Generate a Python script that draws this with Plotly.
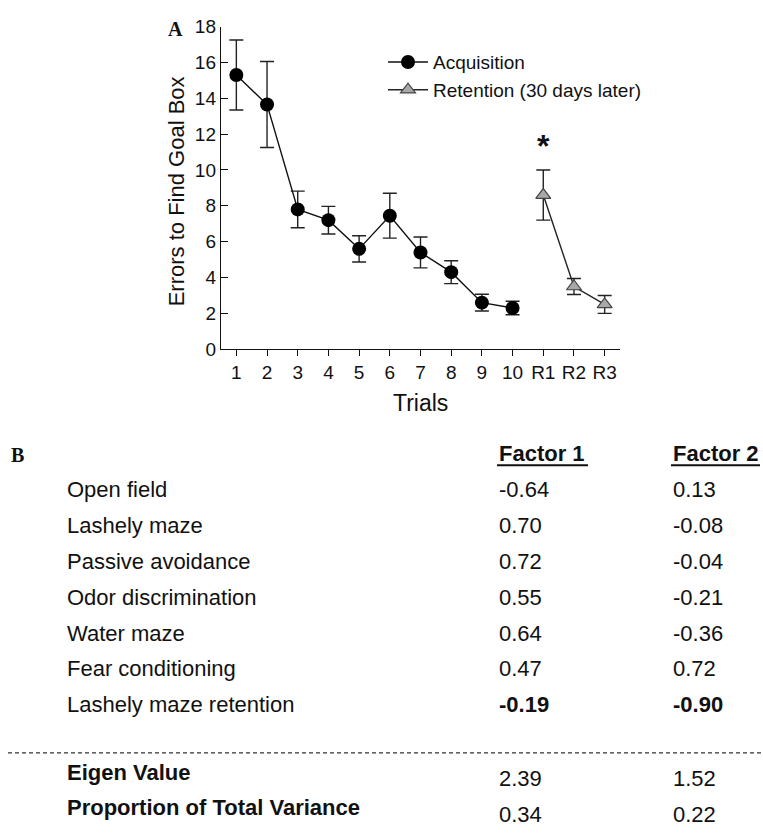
import plotly.graph_objects as go

# ---------------- data ----------------
acq_trials = ["1", "2", "3", "4", "5", "6", "7", "8", "9", "10"]
acq_mean = [15.3, 13.65, 7.8, 7.2, 5.6, 7.45, 5.4, 4.3, 2.6, 2.3]
acq_sem = [1.95, 2.4, 1.02, 0.77, 0.73, 1.25, 0.86, 0.64, 0.47, 0.38]

ret_trials = ["R1", "R2", "R3"]
ret_mean = [8.6, 3.5, 2.5]
ret_sem = [1.4, 0.45, 0.5]

all_trials = acq_trials + ret_trials
y_ticks = [0, 2, 4, 6, 8, 10, 12, 14, 16, 18]

measures = ["Open field", "Lashely maze", "Passive avoidance", "Odor discrimination",
            "Water maze", "Fear conditioning", "Lashely maze retention"]
factor1 = [-0.64, 0.70, 0.72, 0.55, 0.64, 0.47, -0.19]
factor2 = [0.13, -0.08, -0.04, -0.21, -0.36, 0.72, -0.90]
highlight_measure = "Lashely maze retention"
eigen_value = [2.39, 1.52]
prop_variance = [0.34, 0.22]

# ---------------- layout helpers ----------------
W, H = 763, 834
SANS = "Liberation Sans, Arial, sans-serif"
SERIF = "Liberation Serif, Times New Roman, serif"


def px(x):
    return x / W


def py(y):
    return 1 - y / H


fig = go.Figure()

fig.add_trace(go.Scatter(
    x=acq_trials, y=acq_mean, name="Acquisition", mode="lines+markers",
    line=dict(color="#111111", width=1.4),
    marker=dict(symbol="circle", size=14, color="#000000"),
    error_y=dict(type="data", array=acq_sem, color="#222222", thickness=1.4, width=7),
))
fig.add_trace(go.Scatter(
    x=ret_trials, y=ret_mean, name="Retention (30 days later)", mode="lines+markers",
    line=dict(color="#222222", width=1.4),
    marker=dict(symbol="triangle-up", size=13, color="#a8a8a8",
                line=dict(color="#444444", width=1.2)),
    error_y=dict(type="data", array=ret_sem, color="#222222", thickness=1.4, width=7),
))

annotations = []
# panel letters
annotations.append(dict(x=px(175), y=py(20), xref="paper", yref="paper", text="<b>A</b>",
                        showarrow=False, font=dict(family=SERIF, size=20, color="#111"),
                        xanchor="center", yanchor="middle"))
annotations.append(dict(x=px(9), y=py(456), xref="paper", yref="paper", text="<b>B</b>",
                        showarrow=False, font=dict(family=SERIF, size=20, color="#111"),
                        xanchor="left", yanchor="middle"))
# axis titles
annotations.append(dict(x=px(176), y=py(186), xref="paper", yref="paper",
                        text="Errors to Find Goal Box", textangle=-90, showarrow=False,
                        font=dict(family=SANS, size=22, color="#111"),
                        xanchor="center", yanchor="middle"))
annotations.append(dict(x=px(420), y=py(403), xref="paper", yref="paper", text="Trials",
                        showarrow=False, font=dict(family=SANS, size=23, color="#111"),
                        xanchor="center", yanchor="middle"))
# significance star
annotations.append(dict(x="R1", y=ret_mean[0] + ret_sem[0], xref="x", yref="y", text="<b>*</b>",
                        showarrow=False, font=dict(family=SANS, size=32, color="#111"),
                        xanchor="center", yanchor="bottom", yshift=4))

# table
tfont = dict(family=SANS, size=22, color="#111")
col1_x, col2_x, lab_x = 497, 671, 65
annotations.append(dict(x=px(col1_x), y=py(455), xref="paper", yref="paper", text="<b>Factor 1</b>",
                        showarrow=False, font=dict(family=SANS, size=22, color="#111"),
                        xanchor="left", yanchor="middle"))
annotations.append(dict(x=px(761), y=py(455), xref="paper", yref="paper", text="<b>Factor 2</b>",
                        showarrow=False, font=dict(family=SANS, size=22, color="#111"),
                        xanchor="right", yanchor="middle"))
row_y0, row_dy = 492, 36.8
for i, (m, f1, f2) in enumerate(zip(measures, factor1, factor2)):
    yy = row_y0 + i * row_dy
    b = m == highlight_measure
    v1 = f"{f1:.2f}"
    v2 = f"{f2:.2f}"
    if b:
        v1, v2 = f"<b>{v1}</b>", f"<b>{v2}</b>"
    for xx, t in ((lab_x, m), (col1_x, v1), (col2_x, v2)):
        annotations.append(dict(x=px(xx), y=py(yy), xref="paper", yref="paper", text=t,
                                showarrow=False, font=tfont, xanchor="left", yanchor="middle"))

summary = [("Eigen Value", eigen_value, 782, 788), ("Proportion of Total Variance", prop_variance, 818, 825)]
for lab, vals, ly, vy in summary:
    annotations.append(dict(x=px(lab_x), y=py(ly), xref="paper", yref="paper", text=f"<b>{lab}</b>",
                            showarrow=False, font=tfont, xanchor="left", yanchor="middle"))
    for xx, v in zip((col1_x, col2_x), vals):
        annotations.append(dict(x=px(xx), y=py(vy), xref="paper", yref="paper", text=f"{v:.2f}",
                                showarrow=False, font=tfont, xanchor="left", yanchor="middle"))

shapes = [
    dict(type="line", xref="paper", yref="paper", x0=px(497), x1=px(588), y0=py(467), y1=py(467),
         line=dict(color="#111", width=1.8)),
    dict(type="line", xref="paper", yref="paper", x0=px(671), x1=px(760), y0=py(467), y1=py(467),
         line=dict(color="#111", width=1.8)),
    dict(type="line", xref="paper", yref="paper", x0=px(8), x1=px(763), y0=py(762), y1=py(762),
         line=dict(color="#333", width=1.2, dash="4px,3px")),
]

fig.update_layout(
    width=W, height=H, margin=dict(l=0, r=0, t=0, b=0),
    paper_bgcolor="white", plot_bgcolor="white",
    font=dict(family=SANS, color="#111"),
    showlegend=True,
    legend=dict(x=px(383), y=py(34), xanchor="left", yanchor="top",
                font=dict(family=SANS, size=19, color="#111"),
                bgcolor="rgba(0,0,0,0)", tracegroupgap=0, itemwidth=40),
    annotations=annotations, shapes=shapes,
    xaxis=dict(domain=[px(221), px(620)], type="category", categoryorder="array",
               categoryarray=all_trials, range=[-0.5, 12.5],
               showline=True, linecolor="#111", linewidth=1.4, ticks="outside", ticklen=6,
               tickcolor="#111", tickwidth=1.4, tickfont=dict(size=19, family=SANS),
               showgrid=False, zeroline=False),
    yaxis=dict(domain=[py(348), py(17)], range=[0, 18], tickvals=y_ticks,
               showline=True, linecolor="#111", linewidth=1.4, ticks="inside", ticklen=7,
               tickcolor="#111", tickwidth=1.4, tickfont=dict(size=19, family=SANS),
               showgrid=False, zeroline=False),
)

fig.write_html("out.html", config={"displayModeBar": False},
               post_script="document.body.style.margin='0';document.body.style.overflow='hidden';")
